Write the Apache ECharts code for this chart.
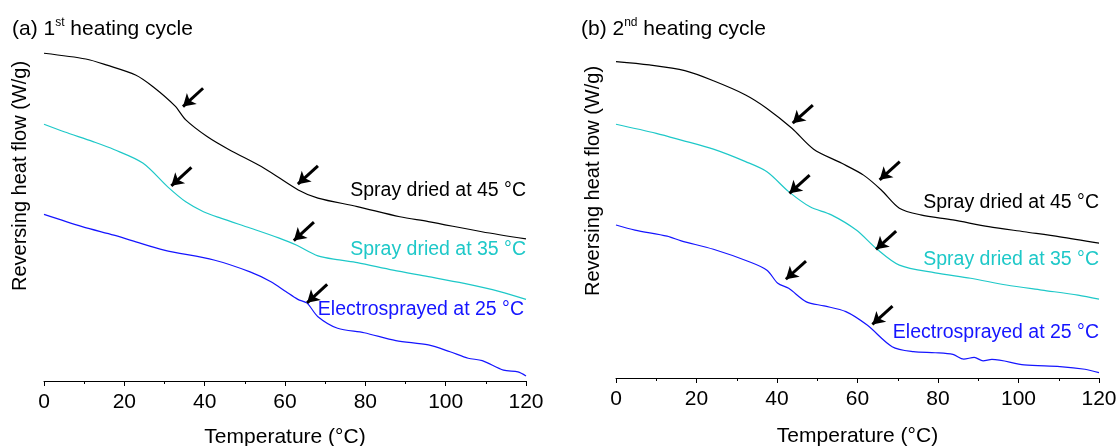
<!DOCTYPE html>
<html>
<head>
<meta charset="utf-8">
<script src="https://cdn.jsdelivr.net/npm/echarts@6/dist/echarts.min.js"></script>
<style>
  html, body { margin: 0; padding: 0; background: #fff; }
  #chart { width: 1118px; height: 446px; }
</style>
</head>
<body>
<div id="chart"></div>
<script>
// Reversing heat flow (arbitrary offset units) vs temperature (°C)

const FONT = "'Liberation Sans', Arial, sans-serif";
const xTicks = [0, 20, 40, 60, 80, 100, 120];

const seriesNames = ['Spray dried at 45 °C', 'Spray dried at 35 °C', 'Electrosprayed at 25 °C'];
const seriesColors = ['#000000', '#1ec8c8', '#1515ff'];

// (a) 1st heating cycle
const c1Spray45 = [[0,9.64],[10.4,9.47],[15.7,9.29],[22.8,9.0],[27.3,8.64],[32.6,8.09],[35.3,7.68],
  [40.6,7.19],[46,6.81],[54.8,6.26],[63.3,5.62],[68.2,5.38],[78,5.13],[88.6,4.83],[95.7,4.69],
  [109,4.39],[120,4.18]];
const c1Spray35 = [[0,7.55],[5,7.33],[12.2,7.04],[17.4,6.81],[24.6,6.41],[30.8,5.71],[35.3,5.27],
  [39.7,4.98],[44,4.79],[51.3,4.5],[58.4,4.21],[62.8,4.0],[68.2,3.68],[73.5,3.56],[78,3.48],
  [86.9,3.26],[95.7,3.07],[104.6,2.87],[113.5,2.63],[120,2.40]];
const c1Electro25 = [[0,4.90],[9.5,4.54],[17.4,4.29],[21.9,4.13],[29.9,3.85],[42.3,3.56],[51.3,3.21],
  [56.5,2.92],[60.2,2.63],[63.2,2.40],[65.5,2.29],[68.2,1.89],[73.1,1.55],[79.7,1.42],[87.6,1.19],
  [95.7,1.06],[101.1,0.86],[105.6,0.67],[109.1,0.60],[114.4,0.32],[118,0.27],[120,0.15]];
// arrow tips marking the glass transition region
const c1Arrows = [
  [[34.6,8.07],[63.2,5.79]],
  [[31.7,5.74],[62.2,4.13]],
  [[65.5,2.30]]
];

// (b) 2nd heating cycle
const c2Spray45 = [[0,9.39],[8.3,9.29],[17.1,9.12],[24.2,8.82],[32.2,8.40],[37.5,8.00],[43.7,7.41],
  [49.1,6.79],[56.1,6.37],[61.5,6.02],[65.9,5.58],[70.4,5.04],[75.7,4.84],[83.7,4.69],[92.6,4.49],
  [101.4,4.34],[110.3,4.19],[120,4.00]];
const c2Spray35 = [[0,7.53],[10,7.26],[16.2,7.06],[24.2,6.79],[32.2,6.42],[37.5,6.12],[42.9,5.53],
  [48.2,5.08],[53.5,4.84],[59.7,4.39],[64.6,3.85],[70.4,3.35],[79.3,3.12],[88.1,2.96],[97,2.76],
  [105.8,2.61],[114.8,2.46],[120,2.34]];
const c2Electro25 = [[0,4.54],[4.7,4.39],[12.7,4.21],[16.2,4.07],[24.2,3.82],[33.1,3.45],[37.5,3.20],
  [40.2,2.81],[42.9,2.66],[47.3,2.26],[51.7,2.14],[57.1,1.97],[62.4,1.57],[68.6,0.93],[73.9,0.78],
  [79.3,0.75],[83.7,0.70],[86.4,0.56],[89,0.61],[91.2,0.51],[93.4,0.55],[101.4,0.39],[110.3,0.34],
  [116.5,0.26],[120,0.16]];
const c2Arrows = [
  [[43.9,7.56],[65.5,5.88]],
  [[43.1,5.48],[64.6,3.82]],
  [[42.2,2.93],[63.7,1.59]]
];

const panelTitles = [
  { main: '(a) 1', sup: 'st', rest: ' heating cycle' },
  { main: '(b) 2', sup: 'nd', rest: ' heating cycle' }
];
const xName = 'Temperature (°C)';
const yName = 'Reversing heat flow (W/g)';

const chart = echarts.init(document.getElementById('chart'), null, { renderer: 'canvas' });

const grids = [
  { left: 44, right: 592, top: 41, bottom: 65, containLabel: false, outerBoundsMode: 'none' },
  { left: 616, right: 19, top: 41, bottom: 68, containLabel: false, outerBoundsMode: 'none' }
];

function xAxisFor(i, gap) {
  return {
    gridIndex: i, type: 'value', min: 0, max: 120, interval: 20,
    name: xName, nameLocation: 'middle', nameGap: gap,
    nameTextStyle: { fontFamily: FONT, fontSize: 21, color: '#000' },
    axisLine: { show: true, onZero: false, lineStyle: { color: '#000', width: 1 } },
    axisTick: { show: true, inside: false, length: 5, lineStyle: { color: '#000' } },
    minorTick: { show: true, splitNumber: 2, length: 3, lineStyle: { color: '#000' } },
    axisLabel: {
      fontFamily: FONT, fontSize: 21, color: '#000', margin: 11,
      formatter: v => xTicks.includes(v) ? String(v) : ''
    },
    splitLine: { show: false }
  };
}
function yAxisFor(i) {
  return {
    gridIndex: i, type: 'value', min: 0, max: 10,
    axisLine: { show: false }, axisTick: { show: false },
    axisLabel: { show: false }, splitLine: { show: false }
  };
}

const ARROW_DX = 5, ARROW_DY = 0.54;
function arrowLines(tips) {
  return {
    silent: true, animation: false,
    symbol: ['none', 'arrow'], symbolSize: [11, 12],
    label: { show: false },
    lineStyle: { color: '#000', width: 3, type: 'solid' },
    data: tips.map(t => [
      { coord: [t[0] + ARROW_DX, t[1] + ARROW_DY] },
      { coord: [t[0], t[1]] }
    ])
  };
}

function curve(i, name, data, color, tips) {
  return {
    type: 'line', name, xAxisIndex: i, yAxisIndex: i, data,
    showSymbol: false, smooth: 0.3, animation: false,
    lineStyle: { color, width: 1.2 },
    markLine: arrowLines(tips)
  };
}

const panels = [
  [c1Spray45, c1Spray35, c1Electro25, c1Arrows],
  [c2Spray45, c2Spray35, c2Electro25, c2Arrows]
];
const series = [];
panels.forEach((p, i) => {
  for (let k = 0; k < 3; k++) series.push(curve(i, seriesNames[k], p[k], seriesColors[k], p[3][k]));
});

// curve labels at the right end of each panel
const labelPos = [
  [[526, 191], [526, 250], [524, 310]],
  [[1099, 203], [1099, 260], [1099, 333]]
];
const graphics = [];
labelPos.forEach(pp => pp.forEach((pos, k) => {
  graphics.push({
    type: 'text', x: pos[0], y: pos[1], silent: true,
    style: { text: seriesNames[k], fill: seriesColors[k], font: '19.5px ' + FONT,
      textAlign: 'right', textVerticalAlign: 'middle' }
  });
}));
// y-axis titles
[[20, 176], [593, 181]].forEach(pos => {
  graphics.push({
    type: 'text', x: pos[0], y: pos[1], rotation: Math.PI / 2, silent: true,
    style: { text: yName, fill: '#000', font: '20px ' + FONT,
      textAlign: 'center', textVerticalAlign: 'middle' }
  });
});
// panel titles
[[12, 29], [581, 29]].forEach((pos, i) => {
  const t = panelTitles[i];
  graphics.push({
    type: 'text', x: pos[0], y: pos[1], silent: true,
    style: {
      text: '{m|' + t.main + '}{s|' + t.sup + '}{m|' + t.rest + '}',
      textAlign: 'left', textVerticalAlign: 'middle',
      rich: {
        m: { fontFamily: FONT, fontSize: 21, fill: '#000', lineHeight: 24 },
        s: { fontFamily: FONT, fontSize: 12, fill: '#000', verticalAlign: 'top', lineHeight: 24, padding: [0, 0, 6, 0] }
      }
    }
  });
});

chart.setOption({
  backgroundColor: '#fff',
  animation: false,
  grid: grids,
  xAxis: [xAxisFor(0, 46), xAxisFor(1, 48)],
  yAxis: [yAxisFor(0), yAxisFor(1)],
  series,
  graphic: graphics
});
</script>
</body>
</html>
